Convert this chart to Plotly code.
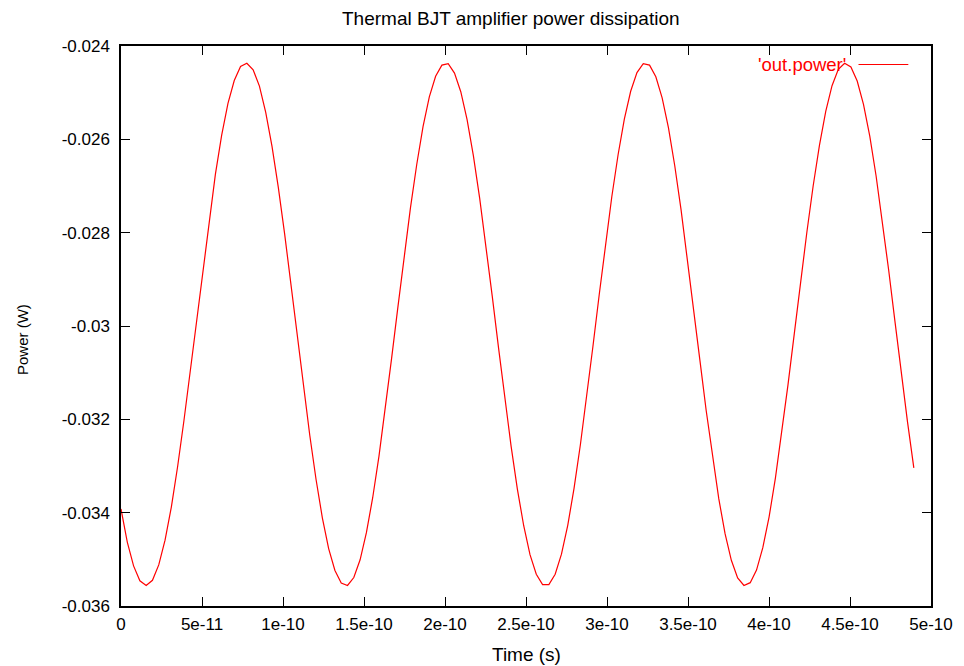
import numpy as np
import plotly.graph_objects as go

# Transient simulation output: dissipated power of the thermal BJT amplifier
t_stop = 4.894e-10          # last simulated time point (s)
n_points = 127              # number of saved time points
time_s = np.linspace(0.0, t_stop, n_points)

power_w = [
    -0.03392, -0.03463, -0.03514, -0.03546, -0.03556, -0.03545, -0.03512, -0.03459,
    -0.03388, -0.03301, -0.03203, -0.03097, -0.02987, -0.02877, -0.02772, -0.02675,
    -0.02591, -0.02523, -0.02474, -0.02444, -0.02437, -0.02451, -0.02486, -0.02542,
    -0.02615, -0.02703, -0.02802, -0.02909, -0.03020, -0.03129, -0.03234, -0.03329,
    -0.03411, -0.03477, -0.03524, -0.03551, -0.03556, -0.03539, -0.03501, -0.03443,
    -0.03368, -0.03279, -0.03178, -0.03070, -0.02960, -0.02851, -0.02747, -0.02654,
    -0.02573, -0.02509, -0.02465, -0.02441, -0.02438, -0.02458, -0.02498, -0.02558,
    -0.02635, -0.02726, -0.02828, -0.02936, -0.03047, -0.03155, -0.03258, -0.03350,
    -0.03428, -0.03490, -0.03532, -0.03554, -0.03554, -0.03532, -0.03489, -0.03427,
    -0.03348, -0.03255, -0.03152, -0.03044, -0.02933, -0.02825, -0.02723, -0.02633,
    -0.02556, -0.02497, -0.02457, -0.02438, -0.02441, -0.02466, -0.02511, -0.02575,
    -0.02656, -0.02750, -0.02854, -0.02963, -0.03073, -0.03181, -0.03281, -0.03370,
    -0.03445, -0.03502, -0.03540, -0.03556, -0.03550, -0.03523, -0.03475, -0.03409,
    -0.03326, -0.03231, -0.03126, -0.03017, -0.02906, -0.02799, -0.02700, -0.02613,
    -0.02540, -0.02485, -0.02450, -0.02437, -0.02445, -0.02475, -0.02525, -0.02593,
    -0.02678, -0.02774, -0.02880, -0.02990, -0.03100, -0.03206, -0.03304,
]

x_tick_vals = [0, 5e-11, 1e-10, 1.5e-10, 2e-10, 2.5e-10, 3e-10, 3.5e-10, 4e-10, 4.5e-10, 5e-10]
x_tick_text = ["0", "5e-11", "1e-10", "1.5e-10", "2e-10", "2.5e-10", "3e-10",
               "3.5e-10", "4e-10", "4.5e-10", "5e-10"]
y_tick_vals = [-0.036, -0.034, -0.032, -0.030, -0.028, -0.026, -0.024]
y_tick_text = ["-0.036", "-0.034", "-0.032", "-0.03", "-0.028", "-0.026", "-0.024"]

series_name = "'out.power'"
line_color = "#ff0000"
font_family = "Liberation Sans, Arial, sans-serif"

fig = go.Figure()
fig.add_trace(go.Scatter(
    x=time_s, y=power_w, mode="lines", name=series_name,
    line=dict(color=line_color, width=1.2), showlegend=False,
))

axis_common = dict(
    showline=True, linecolor="black", linewidth=1.5, mirror="allticks",
    ticks="inside", ticklen=9, tickwidth=1.2, tickcolor="black",
    showgrid=False, zeroline=False,
    tickfont=dict(family=font_family, size=17, color="black"),
)

fig.update_xaxes(range=[0, 5e-10], tickmode="array", tickvals=x_tick_vals,
                 ticktext=x_tick_text, ticklabelstandoff=2, **axis_common)
fig.update_yaxes(range=[-0.036, -0.024], tickmode="array", tickvals=y_tick_vals,
                 ticktext=y_tick_text, ticklabelstandoff=6, **axis_common)

fig.update_layout(
    width=964, height=666,
    margin=dict(l=121, r=33, t=46, b=60),
    paper_bgcolor="white", plot_bgcolor="white",
    font=dict(family=font_family, size=17, color="black"),
    annotations=[
        dict(text="Thermal BJT amplifier power dissipation", xref="paper", yref="paper",
             x=0.4815, y=1, yshift=28, showarrow=False, xanchor="center", yanchor="middle",
             font=dict(size=19)),
        dict(text="Time (s)", xref="paper", yref="paper", x=0.5, y=0, yshift=-48,
             showarrow=False, xanchor="center", yanchor="middle", font=dict(size=19)),
        dict(text="Power (W)", xref="paper", yref="paper", x=0, xshift=-99, y=0.5,
             yshift=-14, textangle=-90, showarrow=False, xanchor="center",
             yanchor="middle", font=dict(size=15)),
        dict(text=series_name, xref="paper", yref="paper", x=0.8975, y=0.967,
             showarrow=False, xanchor="right", yanchor="middle",
             font=dict(size=18.5, color=line_color)),
    ],
    shapes=[
        dict(type="line", xref="paper", yref="paper", x0=0.9105, x1=0.972,
             y0=0.967, y1=0.967, line=dict(color=line_color, width=1.2)),
    ],
)

fig.write_html("out.html")
